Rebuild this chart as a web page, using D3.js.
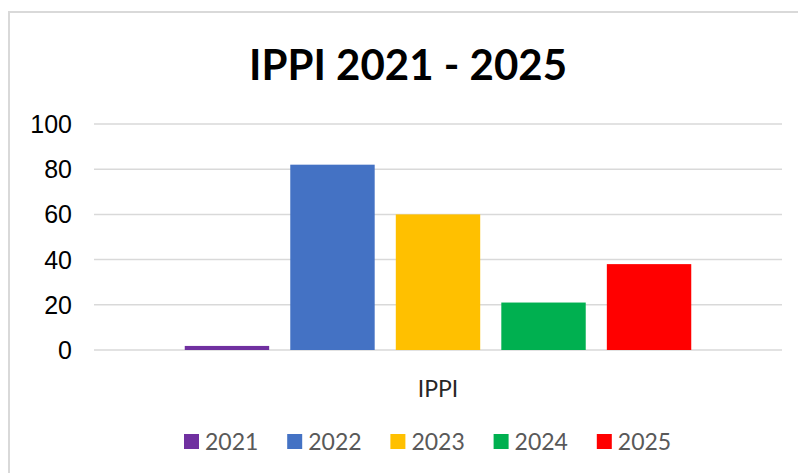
<!DOCTYPE html>
<html>
<head>
<meta charset="utf-8">
<script src="https://cdn.jsdelivr.net/npm/d3@7"></script>
<style>
  html, body { margin: 0; padding: 0; background: #fff; }
  svg { display: block; }
</style>
</head>
<body>
<div id="chart"></div>
<script>
// chart data
var categories = ["IPPI"];
var years = ["2021", "2022", "2023", "2024", "2025"];
var values = [1.8, 82, 60, 21, 38];
var colours = ["#7030A0", "#4472C4", "#FFC000", "#00B050", "#FF0000"];
var yTicks = [0, 20, 40, 60, 80, 100];

var outerWidth = 798, outerHeight = 473;
var margin = {top: 124, right: 16, bottom: 123, left: 94};
var width = outerWidth - margin.left - margin.right,
    height = outerHeight - margin.top - margin.bottom;

var svg = d3.select("#chart")
    .append("svg")
    .attr("width", outerWidth)
    .attr("height", outerHeight);

// chart area border (runs off the right and bottom edge)
svg.append("rect")
    .attr("x", 9).attr("y", 12)
    .attr("width", outerWidth + 20).attr("height", outerHeight + 20)
    .attr("fill", "none")
    .attr("stroke", "#d9d9d9")
    .attr("stroke-width", 2);

svg.append("text")
    .attr("x", 408).attr("y", 80)
    .attr("text-anchor", "middle")
    .style("font-family", "Lato, 'Open Sans', sans-serif")
    .style("font-weight", "bold")
    .style("font-size", "42px")
    .attr("fill", "#000")
    .text("IPPI 2021 - 2025");

var g = svg.append("g")
    .attr("transform", "translate(" + margin.left + "," + margin.top + ")");

var y = d3.scaleLinear().domain([0, 100]).range([height, 0]);

var x0 = d3.scaleBand().domain(categories).range([0, width]).padding(0);

var x1 = d3.scaleBand().domain(years)
    .range([0, x0.bandwidth()])
    .paddingInner(0.2)
    .paddingOuter(0.86);

var colour = d3.scaleOrdinal().domain(years).range(colours);

// gridlines and tick labels
g.selectAll(".grid")
    .data(yTicks)
    .enter()
    .append("line")
    .attr("x1", 0).attr("x2", width)
    .attr("y1", d => y(d)).attr("y2", d => y(d))
    .attr("stroke", "#d9d9d9")
    .attr("stroke-width", 1.5);

g.selectAll(".ytick")
    .data(yTicks)
    .enter()
    .append("text")
    .attr("x", -22)
    .attr("y", d => y(d))
    .attr("dy", "0.36em")
    .attr("text-anchor", "end")
    .style("font-family", "'Liberation Sans', Arial, sans-serif")
    .style("font-size", "25px")
    .attr("fill", "#000")
    .text(d => d);

// bars
var rows = years.map((yr, i) => ({year: yr, value: values[i]}));

var groups = g.selectAll(".cat")
    .data(categories)
    .enter()
    .append("g")
    .attr("transform", d => "translate(" + x0(d) + ",0)");

groups.selectAll("rect")
    .data(rows)
    .enter()
    .append("rect")
    .attr("x", d => x1(d.year))
    .attr("width", x1.bandwidth())
    .attr("y", d => y(d.value))
    .attr("height", d => y(0) - y(d.value))
    .attr("fill", d => colour(d.year));

// category label
groups.append("text")
    .attr("x", x0.bandwidth() / 2)
    .attr("y", height + 47)
    .attr("text-anchor", "middle")
    .style("font-family", "Lato, 'Open Sans', sans-serif")
    .style("font-size", "23px")
    .attr("fill", "#262626")
    .text(d => d);

// legend
var legend = svg.append("g")
    .attr("transform", "translate(184,434)");

var items = legend.selectAll(".item")
    .data(years)
    .enter()
    .append("g")
    .attr("transform", (d, i) => "translate(" + (i * 103.2) + ",0)");

items.append("rect")
    .attr("width", 15).attr("height", 15)
    .attr("fill", d => colour(d));

items.append("text")
    .attr("x", 21)
    .attr("y", 8)
    .attr("dy", "0.36em")
    .style("font-family", "Lato, 'Open Sans', sans-serif")
    .style("font-size", "23px")
    .attr("fill", "#595959")
    .text(d => d);
</script>
</body>
</html>
